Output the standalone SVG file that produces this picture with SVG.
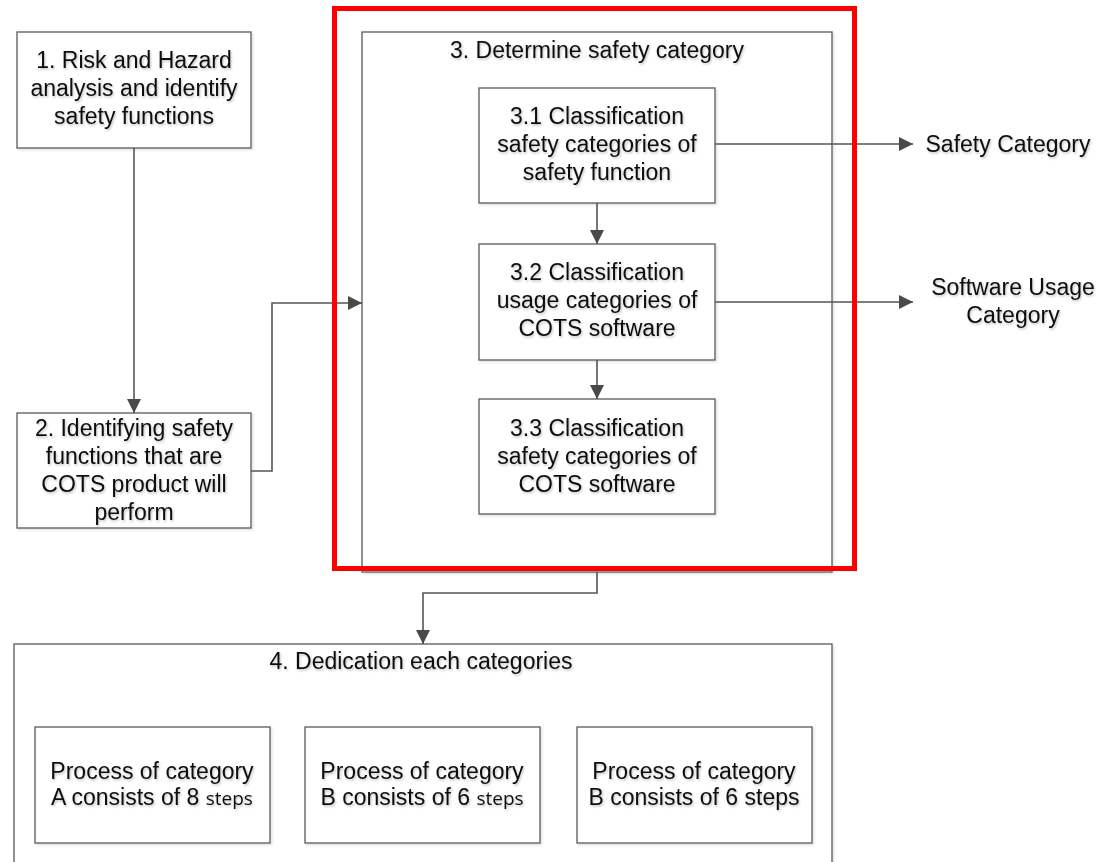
<svg xmlns="http://www.w3.org/2000/svg" width="1101" height="862" viewBox="0 0 1101 862">
<defs>
<filter id="sh" x="-5%" y="-5%" width="110%" height="110%">
<feDropShadow dx="1.5" dy="1.5" stdDeviation="1" flood-color="#000" flood-opacity="0.12"/>
</filter>
<filter id="tsh" x="-5%" y="-20%" width="110%" height="140%">
<feDropShadow dx="1" dy="1.5" stdDeviation="0.8" flood-color="#000" flood-opacity="0.25"/>
</filter>
<marker id="ah" viewBox="0 0 10 10" refX="10" refY="5" markerWidth="14" markerHeight="14" markerUnits="userSpaceOnUse" orient="auto">
<path d="M0,0 L10,5 L0,10 Z" fill="#4a4a4a"/>
</marker>
</defs>
<style>
.box{fill:#fff;stroke:#5a5a5a;stroke-width:1.3;filter:url(#sh)}
.t{font-family:"Liberation Sans",Arial,sans-serif;font-size:23px;fill:#111;text-anchor:middle;filter:url(#tsh)}
.sm{font-family:"Open Sans","Noto Sans",sans-serif;font-size:19px}
.c{fill:none;stroke:#555;stroke-width:1.6}
</style>
<rect width="1101" height="862" fill="#fff"/>

<g id="n1">
<rect class="box" x="17" y="32" width="234" height="116"/>
<text class="t" x="134" y="68">1. Risk and Hazard</text>
<text class="t" x="134" y="96">analysis and identify</text>
<text class="t" x="134" y="124">safety functions</text>
</g>

<g id="n2">
<rect class="box" x="17" y="413" width="234" height="115"/>
<text class="t" x="134" y="436">2. Identifying safety</text>
<text class="t" x="134" y="464">functions that are</text>
<text class="t" x="134" y="492">COTS product will</text>
<text class="t" x="134" y="520">perform</text>
</g>

<g id="n3">
<rect class="box" x="362" y="32" width="470" height="540"/>
<text class="t" x="597" y="58">3. Determine safety category</text>
</g>

<g id="n31">
<rect class="box" x="479" y="88" width="236" height="115"/>
<text class="t" x="597" y="124">3.1 Classification</text>
<text class="t" x="597" y="152">safety categories of</text>
<text class="t" x="597" y="180">safety function</text>
</g>

<g id="n32">
<rect class="box" x="479" y="244" width="236" height="116"/>
<text class="t" x="597" y="280">3.2 Classification</text>
<text class="t" x="597" y="308">usage categories of</text>
<text class="t" x="597" y="336">COTS software</text>
</g>

<g id="n33">
<rect class="box" x="479" y="399" width="236" height="115"/>
<text class="t" x="597" y="436">3.3 Classification</text>
<text class="t" x="597" y="464">safety categories of</text>
<text class="t" x="597" y="492">COTS software</text>
</g>

<g id="out1">
<text class="t" x="1008" y="152">Safety Category</text>
</g>
<g id="out2">
<text class="t" x="1013" y="295">Software Usage</text>
<text class="t" x="1013" y="323">Category</text>
</g>

<g id="n4">
<rect class="box" x="14" y="644" width="818" height="230"/>
<text class="t" x="421" y="669">4. Dedication each categories</text>
</g>

<g id="n4a">
<rect class="box" x="35" y="727" width="235" height="116"/>
<text class="t" x="152" y="779">Process of category</text>
<text class="t" x="152" y="805">A consists of 8 <tspan class="sm">steps</tspan></text>
</g>
<g id="n4b">
<rect class="box" x="305" y="727" width="235" height="116"/>
<text class="t" x="422" y="779">Process of category</text>
<text class="t" x="422" y="805">B consists of 6 <tspan class="sm">steps</tspan></text>
</g>
<g id="n4c">
<rect class="box" x="577" y="727" width="235" height="116"/>
<text class="t" x="694" y="779">Process of category</text>
<text class="t" x="694" y="805">B consists of 6 steps</text>
</g>

<g id="connectors">
<path class="c" d="M134,148 V413" marker-end="url(#ah)"/>
<path class="c" d="M251,471 H272 V303 H362" marker-end="url(#ah)"/>
<path class="c" d="M597,203 V244" marker-end="url(#ah)"/>
<path class="c" d="M597,360 V399" marker-end="url(#ah)"/>
<path class="c" d="M715,144 H913" marker-end="url(#ah)"/>
<path class="c" d="M715,302 H913" marker-end="url(#ah)"/>
<path class="c" d="M597,572 V593 H423 V644" marker-end="url(#ah)"/>
</g>

<g id="highlight">
<rect x="334.5" y="8.5" width="520" height="560" fill="none" stroke="#ff0000" stroke-width="5"/>
</g>
</svg>
